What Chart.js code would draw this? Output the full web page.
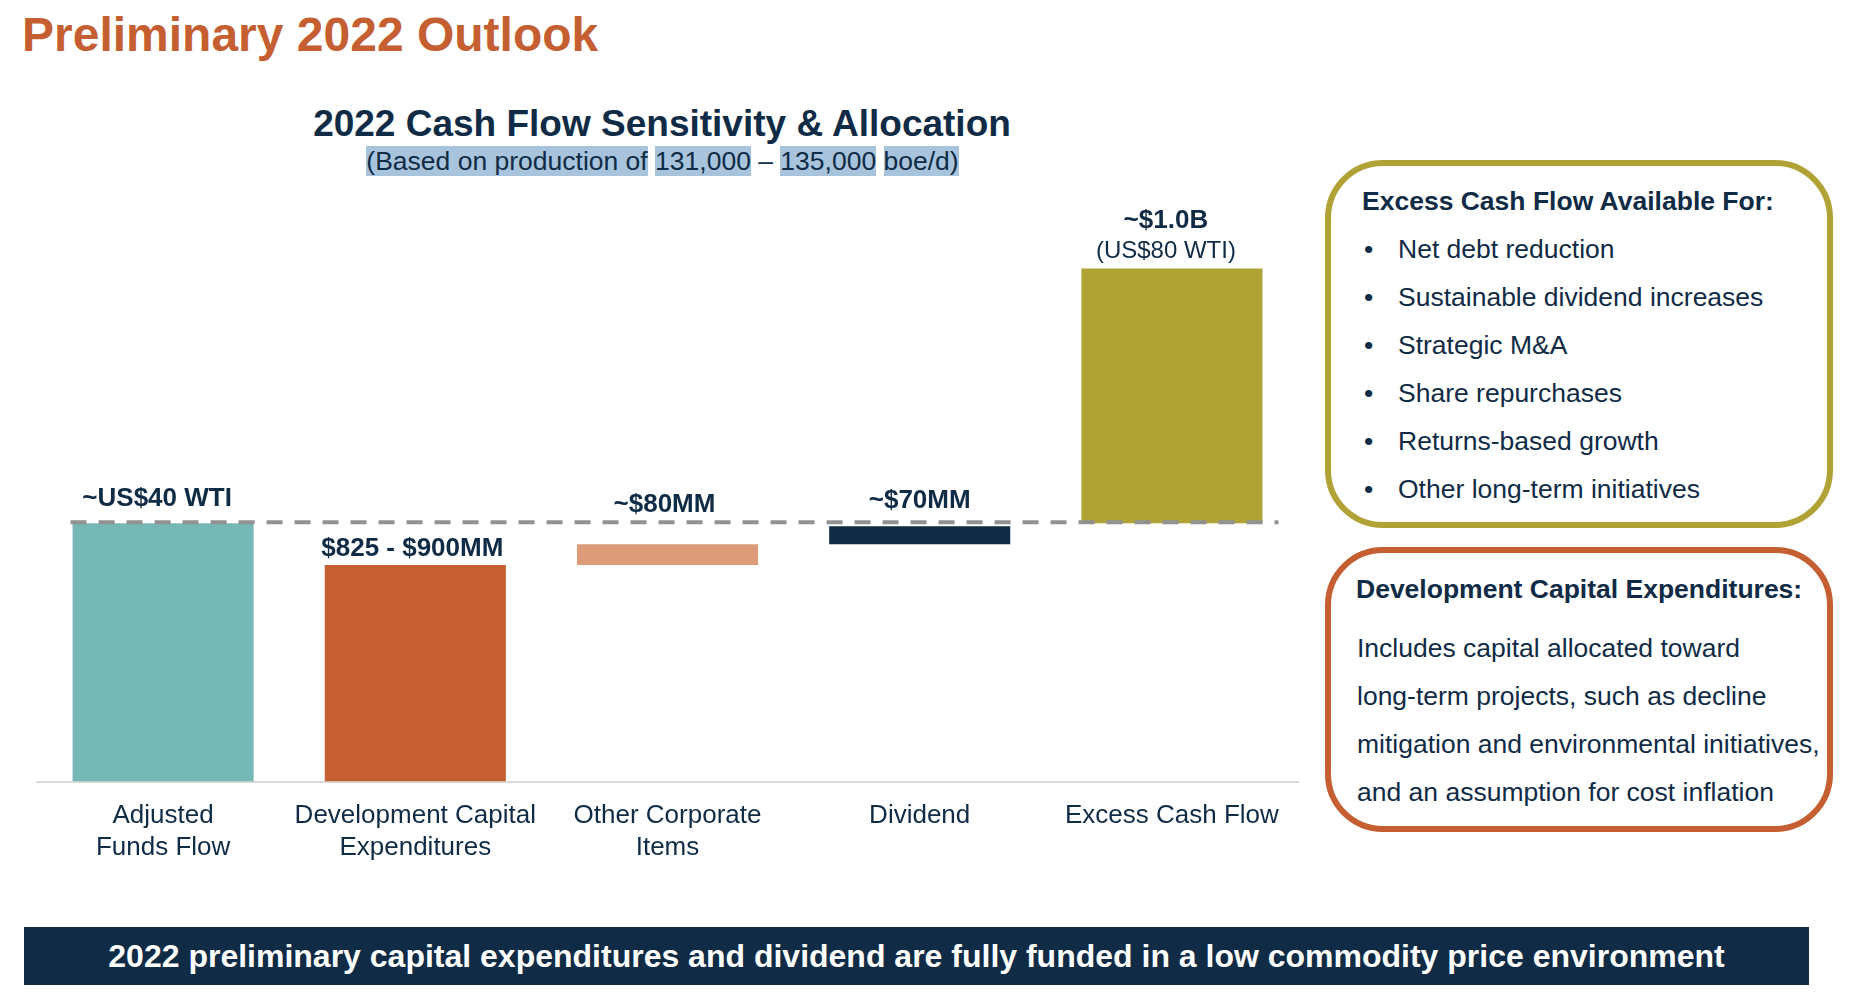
<!DOCTYPE html>
<html>
<head>
<meta charset="utf-8">
<script src="https://cdn.jsdelivr.net/npm/chart.js@4.4.1/dist/chart.umd.min.js"></script>
<style>
  body { margin: 0; width: 1852px; height: 1000px; background: #fff; position: relative; overflow: hidden;
         font-family: "Liberation Sans", Arial, sans-serif; color: #0F2B46; }
  .t { position: absolute; white-space: nowrap; }
  .hl { background: #A8C4DC; }
  .box { position: absolute; box-sizing: border-box; border: 6px solid; border-radius: 58px; }
  #chartWrap { position: absolute; left: 0; top: 190px; }
  #banner { position: absolute; left: 24px; top: 927px; width: 1785px; height: 58px; background: #0F2B46;
            color: #fff; font-weight: bold; font-size: 32px; line-height: 58px; text-align: center; white-space: nowrap; }
</style>
</head>
<body>
<div class="t" style="left:22px; top:11px; font-size:48px; line-height:48px; font-weight:bold; color:#C55F31;">Preliminary 2022 Outlook</div>

<div class="t" style="left:0; width:1324px; text-align:center; top:105px; font-size:37px; line-height:37px; font-weight:bold;">2022 Cash Flow Sensitivity &amp; Allocation</div>
<div class="t" style="left:0; width:1325px; text-align:center; top:148px; font-size:26.5px; line-height:26px;"><span class="hl">(Based on production of</span> <span class="hl">131,000</span> – <span class="hl">135,000</span> <span class="hl">boe/d)</span></div>

<div id="chartWrap"><canvas id="grafico" width="1310" height="700"></canvas></div>

<div class="box" style="left:1325px; top:160px; width:508px; height:368px; border-color:#B1A236;"></div>
<div class="t" style="left:1362px; top:188px; font-size:26.5px; line-height:26px; font-weight:bold;">Excess Cash Flow Available For:</div>
<div id="bullets"></div>

<div class="box" style="left:1325px; top:547px; width:508px; height:285px; border-color:#C55F31;"></div>
<div class="t" style="left:1356px; top:576px; font-size:26.5px; line-height:26px; font-weight:bold;">Development Capital Expenditures:</div>
<div id="capexText"></div>

<div id="banner">2022 preliminary capital expenditures and dividend are fully funded in a low commodity price environment</div>

<script>
// datos del gráfico (MM$)
const categorias = [['Adjusted', 'Funds Flow'], ['Development Capital', 'Expenditures'], ['Other Corporate', 'Items'], ['Dividend'], ['Excess Cash Flow']];
const inicioBarra = [0, 0, 838, 918, 1000];
const finBarra = [1000, 838, 918, 988, 1985];
const etiquetasValor = [['~US$40 WTI'], ['$825 - $900MM'], ['~$80MM'], ['~$70MM'], ['~$1.0B', '(US$80 WTI)']];
const usosExcedente = ['Net debt reduction', 'Sustainable dividend increases', 'Strategic M&A', 'Share repurchases', 'Returns-based growth', 'Other long-term initiatives'];
const textoCapex = ['Includes capital allocated toward', 'long-term projects, such as decline', 'mitigation and environmental initiatives,', 'and an assumption for cost inflation'];

const azul = '#0F2B46';
const coloresBarra = ['#75B8B5', '#C55F31', '#DE9B7A', '#0F2B46', '#B0A336'];

// textos de los recuadros
const bullets = document.getElementById('bullets');
usosExcedente.forEach((txt, i) => {
    const top = 236 + i * 48;
    const b = document.createElement('div');
    b.className = 't';
    b.style.cssText = `left:1364px; top:${top}px; font-size:26.5px; line-height:26px;`;
    b.textContent = '•';
    bullets.appendChild(b);
    const d = document.createElement('div');
    d.className = 't';
    d.style.cssText = `left:1398px; top:${top}px; font-size:26.5px; line-height:26px;`;
    d.textContent = txt;
    bullets.appendChild(d);
});
const capex = document.getElementById('capexText');
textoCapex.forEach((txt, i) => {
    const d = document.createElement('div');
    d.className = 't';
    d.style.cssText = `left:1357px; top:${635 + i * 48}px; font-size:26.5px; line-height:26px;`;
    d.textContent = txt;
    capex.appendChild(d);
});

// línea punteada y etiquetas sobre las barras
const desplazamientos = [[-6, -17], [-3, -9], [-3, -32], [0, -18], [-6, -11]];
const etiquetasPlugin = {
    id: 'etiquetas',
    afterDatasetsDraw(chart) {
        const ctx = chart.ctx;
        const meta = chart.getDatasetMeta(0);
        const y = chart.scales.y.getPixelForValue(finBarra[0]) - 1;
        const primera = meta.data[0];
        const ultima = meta.data[meta.data.length - 1];
        ctx.save();
        ctx.strokeStyle = '#919191';
        ctx.lineWidth = 4;
        ctx.setLineDash([16, 12]);
        ctx.beginPath();
        ctx.moveTo(primera.x - primera.width / 2 - 2, y);
        ctx.lineTo(ultima.x + ultima.width / 2 + 16, y);
        ctx.stroke();
        ctx.setLineDash([]);

        ctx.fillStyle = azul;
        ctx.textAlign = 'center';
        ctx.textBaseline = 'alphabetic';
        meta.data.forEach((bar, i) => {
            const [dx, dy] = desplazamientos[i];
            const lineas = etiquetasValor[i];
            const top = Math.min(bar.y, bar.base);
            lineas.forEach((txt, j) => {
                const offset = (j - (lineas.length - 1)) * 30;
                ctx.font = j === 0 ? 'bold 26px "Liberation Sans", Arial, sans-serif' : '24px "Liberation Sans", Arial, sans-serif';
                ctx.fillText(txt, bar.x + dx, top + dy + offset);
            });
        });
        ctx.restore();
    }
};

const ctx = document.getElementById('grafico').getContext('2d');
new Chart(ctx, {
    type: 'bar',
    data: {
        labels: categorias,
        datasets: [{
            data: inicioBarra.map((v, i) => [v, finBarra[i]]),
            backgroundColor: coloresBarra,
            borderWidth: 0,
            barPercentage: 0.718,
            categoryPercentage: 1
        }]
    },
    options: {
        responsive: false,
        animation: false,
        devicePixelRatio: 1,
        layout: { padding: { left: 37, right: 12, top: 23, bottom: 8 } },
        plugins: { legend: { display: false }, tooltip: { enabled: false } },
        scales: {
            x: {
                grid: { display: false, drawTicks: false },
                border: { display: true, color: '#D9D9D9', width: 2 },
                ticks: {
                    color: azul,
                    padding: 19,
                    maxRotation: 0,
                    autoSkip: false,
                    font: { family: '"Liberation Sans", Arial, sans-serif', size: 26, lineHeight: 1.2 }
                }
            },
            y: { display: false, min: 0, max: 2200 }
        }
    },
    plugins: [etiquetasPlugin]
});
</script>
</body>
</html>
